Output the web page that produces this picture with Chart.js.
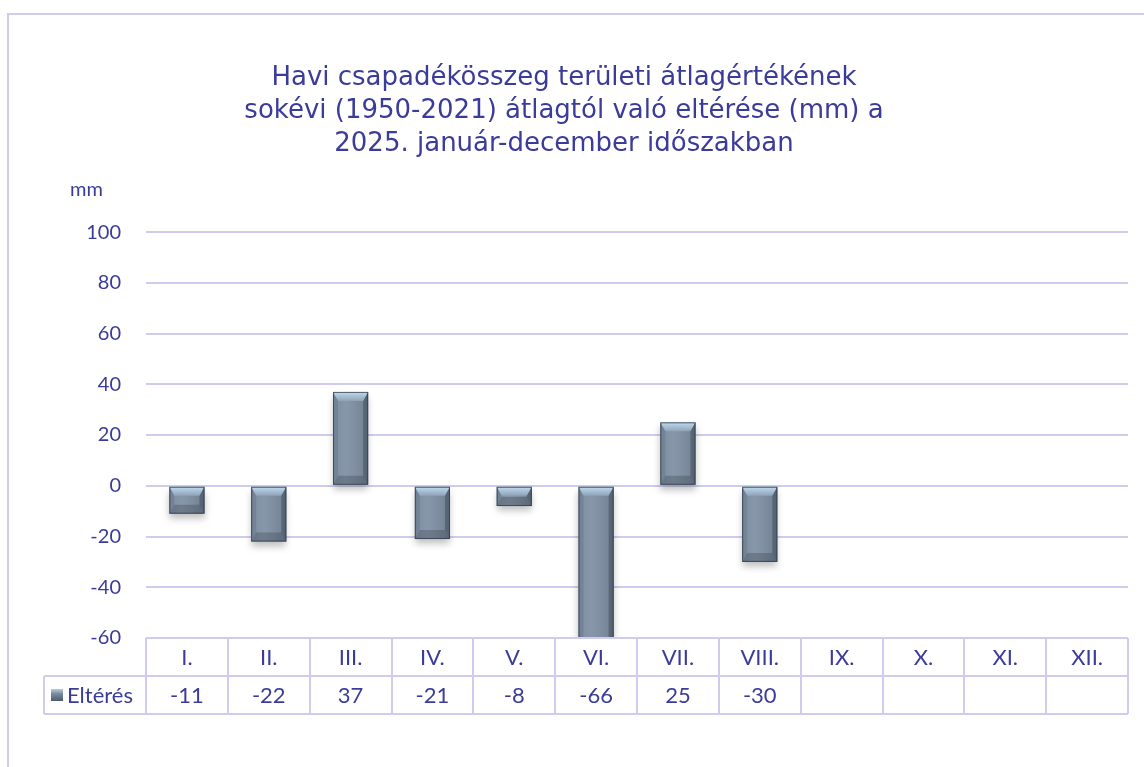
<!DOCTYPE html>
<html>
<head>
<meta charset="utf-8">
<script src="https://cdn.jsdelivr.net/npm/chart.js@4"></script>
<style>
  html, body { margin: 0; padding: 0; background: #fff; }
  #wrap { width: 1144px; height: 767px; position: relative; }
</style>
</head>
<body>
<div id="wrap"><canvas id="chart"></canvas></div>
<script>
// Data
const categories = ['I.', 'II.', 'III.', 'IV.', 'V.', 'VI.', 'VII.', 'VIII.', 'IX.', 'X.', 'XI.', 'XII.'];
const elteres = [-11, -22, 37, -21, -8, -66, 25, -30, null, null, null, null];
const seriesName = 'Eltérés';
const yMin = -60;
const yMax = 100;
const yStep = 20;
const titleLines = [
  'Havi csapadékösszeg területi átlagértékének',
  'sokévi (1950-2021) átlagtól való eltérése (mm) a',
  '2025. január-december időszakban'
];
const unitLabel = 'mm';

// Colours / fonts
const textColor = '#3b3b9a';
const lineColor = '#d0ccf0';
const tickFont = 'Lato, "Open Sans", sans-serif';

// frame round the whole chart + unit label
const framePlugin = {
  id: 'frame',
  beforeDraw(chart) {
    const ctx = chart.ctx;
    ctx.save();
    ctx.strokeStyle = lineColor;
    ctx.lineWidth = 2;
    ctx.strokeRect(8, 14, chart.width + 20, chart.height + 20);
    ctx.fillStyle = textColor;
    ctx.font = '20px ' + tickFont;
    ctx.textAlign = 'left';
    ctx.textBaseline = 'middle';
    ctx.fillText(unitLabel, 70, 190);
    ctx.restore();
  }
};

// shadow + bevel on the columns
const bevelPlugin = {
  id: 'bevel',
  beforeDatasetsDraw(chart) {
    const ctx = chart.ctx;
    ctx.save();
    ctx.shadowColor = 'rgba(0,0,0,0.25)';
    ctx.shadowBlur = 7;
    ctx.shadowOffsetY = 5;
  },
  afterDatasetsDraw(chart) {
    const ctx = chart.ctx;
    ctx.restore();
    const area = chart.chartArea;
    const meta = chart.getDatasetMeta(0);
    ctx.save();
    ctx.beginPath();
    ctx.rect(area.left, area.top, area.right - area.left, area.bottom - area.top);
    ctx.clip();
    meta.data.forEach((bar, i) => {
      if (elteres[i] === null) return;
      const w = bar.width;
      const l = bar.x - w / 2, r = bar.x + w / 2;
      const t = Math.min(bar.y, bar.base), b = Math.max(bar.y, bar.base);
      const bv = Math.min(9, (b - t) / 2);
      const sv = 5;
      // face shading, left to right
      const fg = ctx.createLinearGradient(l, 0, r, 0);
      fg.addColorStop(0, 'rgba(255,255,255,0.0)');
      fg.addColorStop(0.35, 'rgba(255,255,255,0.08)');
      fg.addColorStop(1, 'rgba(0,0,0,0.12)');
      ctx.fillStyle = fg;
      ctx.fillRect(l, t, w, b - t);
      // top (light)
      let g = ctx.createLinearGradient(0, t, 0, t + bv);
      g.addColorStop(0, '#c0dbef');
      g.addColorStop(1, '#8fa3b7');
      ctx.fillStyle = g;
      ctx.beginPath();
      ctx.moveTo(l, t); ctx.lineTo(r, t); ctx.lineTo(r - sv, t + bv); ctx.lineTo(l + sv, t + bv); ctx.closePath();
      ctx.fill();
      // left side
      ctx.fillStyle = 'rgba(60,72,88,0.18)';
      ctx.beginPath();
      ctx.moveTo(l, t); ctx.lineTo(l + sv, t + bv); ctx.lineTo(l + sv, b - bv); ctx.lineTo(l, b); ctx.closePath();
      ctx.fill();
      // right side
      ctx.fillStyle = 'rgba(30,40,52,0.32)';
      ctx.beginPath();
      ctx.moveTo(r, t); ctx.lineTo(r - sv, t + bv); ctx.lineTo(r - sv, b - bv); ctx.lineTo(r, b); ctx.closePath();
      ctx.fill();
      // bottom
      ctx.fillStyle = 'rgba(30,40,52,0.25)';
      ctx.beginPath();
      ctx.moveTo(l, b); ctx.lineTo(r, b); ctx.lineTo(r - sv, b - bv); ctx.lineTo(l + sv, b - bv); ctx.closePath();
      ctx.fill();
      ctx.strokeStyle = 'rgba(50,60,72,0.8)';
      ctx.lineWidth = 1;
      ctx.strokeRect(l + 0.5, t + 0.5, w - 1, b - t - 1);
    });
    ctx.restore();
  }
};

// data table under the plot
const tablePlugin = {
  id: 'dataTable',
  afterDraw(chart) {
    const ctx = chart.ctx;
    const x = chart.scales.x;
    const area = chart.chartArea;
    const rowH = 38;
    const top = area.bottom;
    const legendLeft = 44;
    const colW = x.width / categories.length;
    ctx.save();
    ctx.strokeStyle = lineColor;
    ctx.lineWidth = 2;
    ctx.beginPath();
    ctx.moveTo(area.left, top); ctx.lineTo(area.right, top);
    ctx.moveTo(legendLeft, top + rowH); ctx.lineTo(area.right, top + rowH);
    ctx.moveTo(legendLeft, top + 2 * rowH); ctx.lineTo(area.right, top + 2 * rowH);
    ctx.moveTo(legendLeft, top + rowH); ctx.lineTo(legendLeft, top + 2 * rowH);
    for (let i = 0; i <= categories.length; i++) {
      const px = Math.round(x.getPixelForValue(0) - colW / 2 + i * colW);
      ctx.moveTo(px, top); ctx.lineTo(px, top + 2 * rowH);
    }
    ctx.stroke();

    ctx.fillStyle = textColor;
    ctx.font = '22px ' + tickFont;
    ctx.textAlign = 'center';
    ctx.textBaseline = 'middle';
    categories.forEach((c, i) => {
      const px = x.getPixelForValue(i);
      ctx.fillText(c, px, top + rowH / 2 + 1);
      if (elteres[i] !== null) ctx.fillText(String(elteres[i]), px, top + rowH * 1.5 + 1);
    });

    // legend key
    const ky = top + rowH * 1.5;
    const kg = ctx.createLinearGradient(0, ky - 6, 0, ky + 6);
    kg.addColorStop(0, '#b5cde0');
    kg.addColorStop(0.4, '#7a8b9e');
    kg.addColorStop(1, '#4d5a69');
    ctx.fillStyle = kg;
    ctx.fillRect(51, ky - 6, 12, 12);
    ctx.fillStyle = textColor;
    ctx.textAlign = 'left';
    ctx.fillText(seriesName, 67, ky + 1);
    ctx.restore();
  }
};

const ctx = document.getElementById('chart');
new Chart(ctx, {
  type: 'bar',
  data: {
    labels: categories,
    datasets: [{
      label: seriesName,
      data: elteres,
      backgroundColor: '#7d8ea2',
      borderWidth: 0,
      barPercentage: 0.43,
      categoryPercentage: 1
    }]
  },
  options: {
    responsive: true,
    maintainAspectRatio: false,
    animation: false,
    layout: {
      padding: { top: 0, right: 16, bottom: 129, left: 0 }
    },
    plugins: {
      legend: { display: false },
      tooltip: { enabled: false },
      title: {
        display: true,
        text: titleLines,
        color: textColor,
        font: { family: '"DejaVu Sans", Verdana, sans-serif', size: 26, weight: 'normal', lineHeight: 1.27 },
        padding: { top: 62, bottom: 71 }
      }
    },
    scales: {
      x: {
        display: false
      },
      y: {
        min: yMin,
        max: yMax,
        afterFit(scale) { scale.width = 146; },
        border: { display: false },
        grid: { color: lineColor, lineWidth: 2, drawTicks: false },
        ticks: {
          stepSize: yStep,
          padding: 25,
          color: textColor,
          font: { family: tickFont, size: 20 }
        }
      }
    }
  },
  plugins: [framePlugin, bevelPlugin, tablePlugin]
});
</script>
</body>
</html>
